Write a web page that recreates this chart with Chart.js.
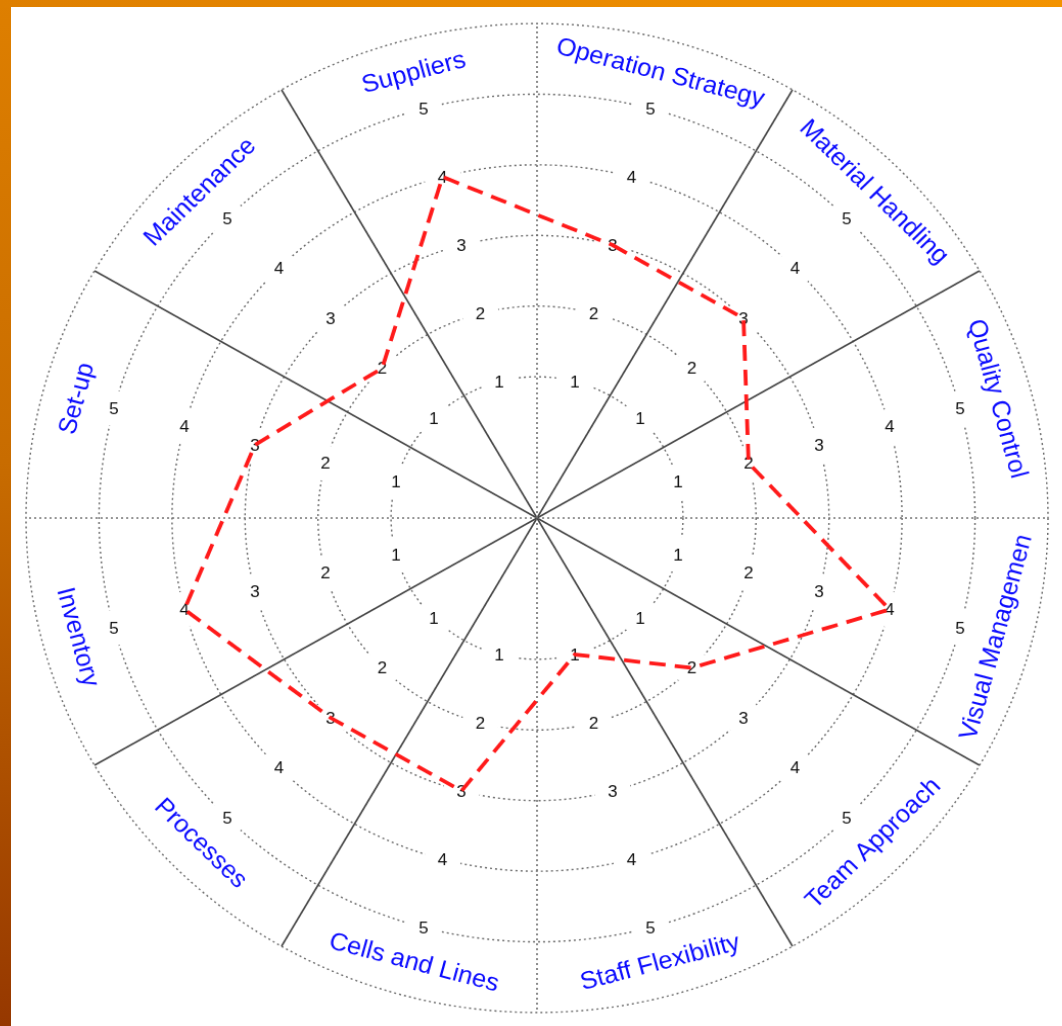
<!DOCTYPE html>
<html>
<head>
<meta charset="utf-8">
<title>Lean assessment radar</title>
<script src="https://cdn.jsdelivr.net/npm/chart.js@4.4.1/dist/chart.umd.min.js"></script>
<style>
  html, body { margin: 0; width: 1062px; height: 1026px; overflow: hidden; }
  body { position: relative; background: linear-gradient(180deg, #de7f00 0%, #c86c00 45%, #963800 100%); }
  #topStrip { position: absolute; left: 0; top: 0; width: 1062px; height: 7px; background: linear-gradient(90deg, #de7f00, #f39300); }
  #panel { position: absolute; left: 11px; top: 7px; right: 0; bottom: 0; background: #fff; }
  #wrap { position: absolute; left: 32px; top: 12.5px; width: 1010px; height: 1010px;
          transform: scale(1.022, 0.989); transform-origin: 505px 505px; }
</style>
</head>
<body>
<div id="topStrip"></div>
<div id="panel"></div>
<div id="wrap"><canvas id="radarChart"></canvas></div>
<script>
// one score per area, read clockwise starting at the top
const categories = ['Operation Strategy', 'Material Handling', 'Quality Control', 'Visual Managemen',
                    'Team Approach', 'Staff Flexibility', 'Cells and Lines', 'Processes',
                    'Inventory', 'Set-up', 'Maintenance', 'Suppliers'];
const scores = [3, 3, 2, 4, 2, 1, 3, 3, 4, 3, 2, 4];
const ringTicks = [1, 2, 3, 4, 5];

// every area sits between two spokes, so put an empty slot on each spoke
let labels = [];
let values = [];
categories.forEach(function(name, i) {
    labels.push('', name);
    values.push(null, scores[i]);
});

// ring numbers in every sector + the blue rotated area names
const sectorText = {
    id: 'sectorText',
    beforeDatasetsDraw(chart) {
        const r = chart.scales.r;
        const ctx = chart.ctx;
        ctx.save();
        ctx.textAlign = 'center';
        ctx.textBaseline = 'middle';
        chart.data.labels.forEach(function(label, i) {
            if (!label) return;
            const angle = r.getIndexAngle(i);

            ctx.font = '17px "Liberation Sans", Arial, sans-serif';
            ringTicks.forEach(function(v) {
                const p = r.getPointPositionForValue(i, v);
                ctx.save();
                ctx.translate(p.x, p.y);
                ctx.rotate(angle);
                ctx.fillStyle = '#ffffff';
                ctx.fillRect(-18, -8, 36, 16);
                ctx.restore();
                ctx.fillStyle = '#111111';
                ctx.fillText(String(v), p.x, p.y + 1);
            });

            const deg = angle * 180 / Math.PI;
            let rot = angle;
            if (deg > 90 && deg < 270) rot = angle - Math.PI;
            const q = r.getPointPositionForValue(i, 5.52);
            ctx.save();
            ctx.translate(q.x, q.y);
            ctx.rotate(rot);
            ctx.font = '25px "Liberation Sans", Arial, sans-serif';
            ctx.fillStyle = '#0a0aff';
            ctx.fillText(label, 0, 0);
            ctx.restore();
        });
        ctx.restore();
    }
};

new Chart('radarChart', {
    type: 'radar',
    data: {
        labels: labels,
        datasets: [{
            data: values,
            spanGaps: true,
            fill: false,
            borderColor: '#ff1a1a',
            borderWidth: 3.8,
            borderDash: [16, 9],
            tension: 0,
            pointRadius: 0,
            pointHitRadius: 0
        }]
    },
    options: {
        responsive: true,
        maintainAspectRatio: false,
        animation: false,
        layout: { padding: 5 },
        plugins: {
            legend: { display: false },
            tooltip: { enabled: false }
        },
        scales: {
            r: {
                min: -1,
                max: 6,
                ticks: { display: false, stepSize: 1 },
                pointLabels: { display: false },
                grid: {
                    circular: true,
                    color: c => (c.tick && c.tick.value > 0) ? '#666666' : 'rgba(0,0,0,0)',
                    lineWidth: 1.4
                },
                border: { dash: [2, 3] },
                angleLines: {
                    color: c => c.index % 2 ? 'rgba(0,0,0,0)' : (c.index % 6 === 0 ? '#707070' : '#444444'),
                    lineWidth: c => c.index % 2 ? 0 : 1.6,
                    borderDash: c => c.index % 6 === 0 ? [2, 3] : []
                }
            }
        }
    },
    plugins: [sectorText]
});
</script>
</body>
</html>
